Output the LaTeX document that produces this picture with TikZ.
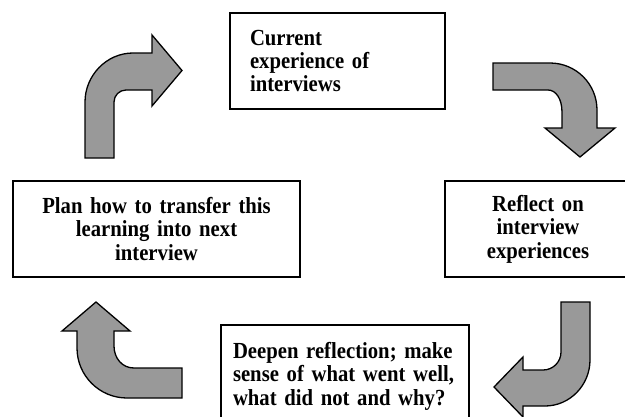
\documentclass[tikz,border=0pt]{standalone}
\usepackage{fontspec}
\setmainfont{Liberation Serif}
\newfontfamily\boxfont[FakeStretch=0.9]{Liberation Serif}
\definecolor{arrowgray}{RGB}{153,153,153}
\begin{document}
\begin{tikzpicture}[x=1pt,y=-1pt,
  box/.style={draw=black, line width=1.6pt, fill=white, rectangle,
    font=\boxfont\fontsize{23}{23.4}\selectfont\bfseries, minimum height=96pt, outer sep=0pt},
  bentarrow/.style={draw=black, line width=1.3pt, fill=arrowgray, line join=miter}]
\useasboundingbox (0,0) rectangle (625,416);
% boxes
\node[box, text width=175pt, inner xsep=20pt, align=left] (cur) at (337.5,61)
  {\mbox{Current}\\\mbox{experience of}\\\mbox{interviews}};
\node[box, text width=166pt, inner xsep=10pt, align=center] (refl) at (538,229)
  {\mbox{Reflect on}\\\mbox{interview}\\\mbox{experiences}};
\node[box, text width=267pt, inner xsep=10pt, align=center] (plan) at (156.5,229)
  {\mbox{Plan how to transfer this}\\\mbox{learning into next}\\\mbox{interview}};
\node[box, text width=224pt, inner xsep=12pt, minimum height=102pt, align=left] (deep) at (345,376)
  {\mbox{Deepen reflection; make}\\\mbox{sense of what went well,}\\\mbox{what did not and why?}};

% arrow: plan -> current (up, then right)
\draw[bentarrow] (85,158) -- (85,102)
  .. controls (85,75.5) and (106.5,53) .. (133,53)
  -- (152,53) -- (152,35) -- (182,70.5) -- (152,106) -- (152,90) -- (126,90)
  .. controls (119.4,90) and (114,95.4) .. (114,102)
  -- (114,158) -- cycle;

% arrow: current -> reflect (right, then down)
\draw[bentarrow] (493,63) -- (550,63)
  .. controls (576,63) and (597,84) .. (597,110)
  -- (597,128) -- (615,128) -- (580,157) -- (545,128) -- (562,128) -- (562,112)
  .. controls (562,99) and (556,90) .. (548,90)
  -- (493,90) -- cycle;

% arrow: reflect -> deepen (down, then left)
\draw[bentarrow] (561,302) -- (590,302) -- (590,360)
  .. controls (590,385) and (570,406) .. (545,406)
  -- (523,406) -- (523,417) -- (494,387) -- (523,357) -- (523,370) -- (543,370)
  .. controls (553,370) and (561,362) .. (561,352)
  -- cycle;

% arrow: deepen -> plan (left, then up)
\draw[bentarrow] (182,368) -- (182,398) -- (127,398)
  .. controls (99.4,398) and (77,375.6) .. (77,348)
  -- (77,331) -- (62,331) -- (96,302) -- (130,331) -- (114,331) -- (114,346)
  .. controls (114,358) and (122,368) .. (134,368)
  -- cycle;
\end{tikzpicture}
\end{document}
